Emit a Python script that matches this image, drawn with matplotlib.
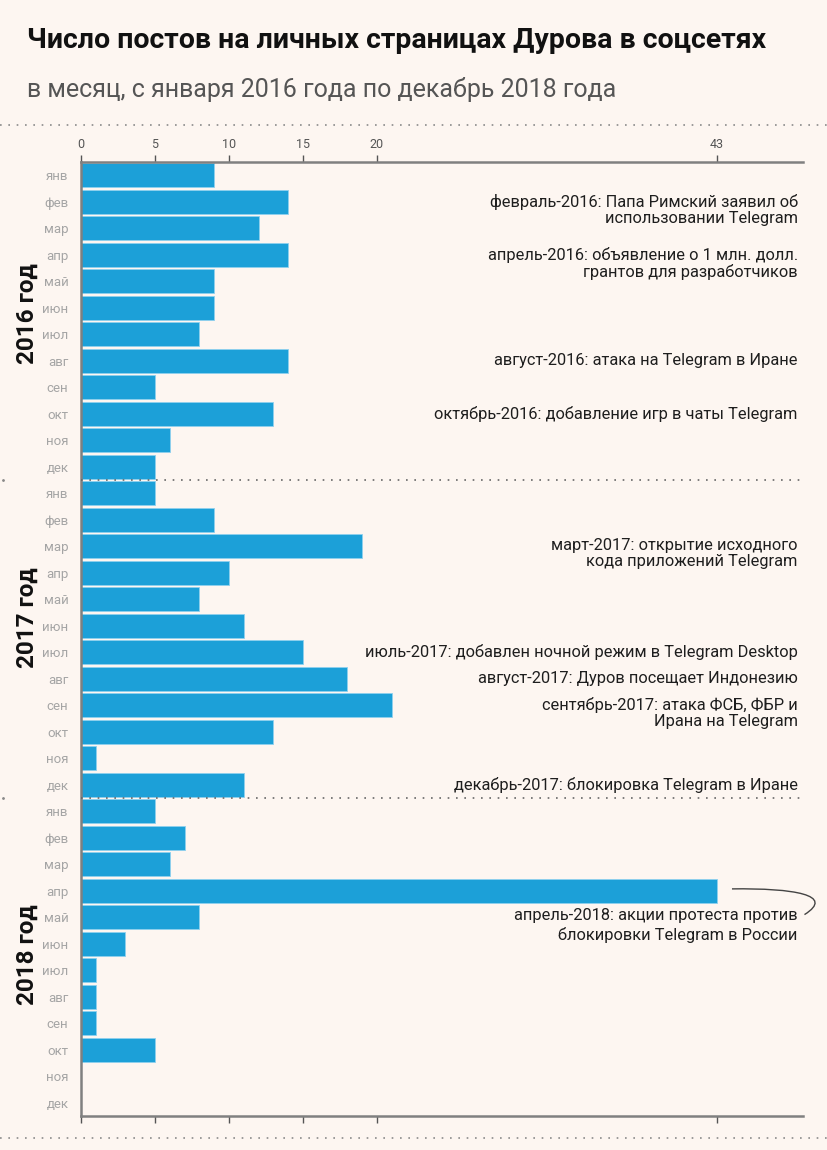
import matplotlib.pyplot as plt
import matplotlib.transforms as mtransforms
from matplotlib.patches import PathPatch
from matplotlib.path import Path
from matplotlib.lines import Line2D

plt.rcParams['font.family'] = ['Roboto', 'DejaVu Sans']

months = ['янв', 'фев', 'мар', 'апр', 'май', 'июн',
          'июл', 'авг', 'сен', 'окт', 'ноя', 'дек']
years = ['2016 год', '2017 год', '2018 год']
posts_2016 = [9, 14, 12, 14, 9, 9, 8, 14, 5, 13, 6, 5]
posts_2017 = [5, 9, 19, 10, 8, 11, 15, 18, 21, 13, 1, 11]
posts_2018 = [5, 7, 6, 43, 8, 3, 1, 1, 1, 5, 0, 0]
x_ticks = [0, 5, 10, 15, 20, 43]

# (row index, text)
events = [
    (1, 'февраль-2016: Папа Римский заявил об\nиспользовании Telegram'),
    (3, 'апрель-2016: объявление о 1 млн. долл.\nгрантов для разработчиков'),
    (7, 'август-2016: атака на Telegram в Иране'),
    (9, 'октябрь-2016: добавление игр в чаты Telegram'),
    (14, 'март-2017: открытие исходного\nкода приложений Telegram'),
    (18, 'июль-2017: добавлен ночной режим в Telegram Desktop'),
    (19, 'август-2017: Дуров посещает Индонезию'),
    (20, 'сентябрь-2017: атака ФСБ, ФБР и\nИрана на Telegram'),
    (23, 'декабрь-2017: блокировка Telegram в Иране'),
]
big_event = (27, 'апрель-2018: акции протеста против\nблокировки Telegram в России')

values = posts_2016 + posts_2017 + posts_2018
labels = months * 3
rows = list(range(len(values)))

bg = '#fdf6f1'
bar_c = '#1ca0d8'

fig = plt.figure(figsize=(8.28, 11.5), dpi=100, facecolor=bg)
ax = fig.add_axes([81 / 828, 1 - 1116 / 1150, (803 - 81) / 828, (1116 - 162) / 1150])
ax.set_facecolor(bg)

ax.barh(rows, values, height=0.92, color=bar_c, edgecolor='#8fd0ee', linewidth=0.6, zorder=2)
ax.set_ylim(len(values) - 0.5, -0.5)
ax.set_xlim(0, 48.8)

ax.set_yticks(rows)
ax.set_yticklabels(labels, color='#a5a5a5', fontsize=9.5)
ax.tick_params(axis='y', length=0, pad=9)

ax.set_xticks(x_ticks)
ax.tick_params(axis='x', top=True, labeltop=True, bottom=True, labelbottom=False,
               direction='out', length=5, width=1, color='#555555',
               labelsize=9, labelcolor='#555555', pad=3)
for s in ['top', 'bottom', 'left']:
    ax.spines[s].set_color('#808080')
    ax.spines[s].set_linewidth(1.8)
ax.spines['right'].set_visible(False)

# events
for r, txt in events:
    ax.text(48.45, r - 0.3, txt, ha='right', va='top', fontsize=11.8,
            color='#1e1e1e', linespacing=1.06, zorder=3)
r, txt = big_event
ax.text(48.45, r + 0.64, txt, ha='right', va='top', fontsize=11.8,
        color='#1e1e1e', linespacing=1.35, zorder=3)
verts = [(44.0, r - 0.07), (48.2, r - 0.1), (51.0, r + 0.16), (48.9, r + 0.9)]
curve = PathPatch(Path(verts, [Path.MOVETO, Path.CURVE4, Path.CURVE4, Path.CURVE4]),
                  fill=False, edgecolor='#444444', lw=1.0, clip_on=False)
ax.add_patch(curve)

# year labels and separators
blend = mtransforms.blended_transform_factory(fig.transFigure, ax.transData)
for name, yc in zip(years, [5.24, 16.7, 29.4]):
    ax.text(27 / 828, yc, name, rotation=90, ha='center', va='center',
            fontsize=17.5, fontweight='bold', color='#111111', transform=blend)
for yb in [11.5, 23.5]:
    ax.plot([0, 1.0], [yb, yb], transform=mtransforms.blended_transform_factory(
        ax.transAxes, ax.transData), ls=(0, (1, 4)), color='#666666', lw=1.2,
        clip_on=False, zorder=4)
    ax.plot([3 / 828], [yb], marker='.', ms=2, color='#888888',
            transform=blend, clip_on=False)

for yy in [125, 1138]:
    fig.add_artist(Line2D([0, 1], [1 - yy / 1150] * 2, transform=fig.transFigure,
                          ls=(0, (1, 4)), color='#8a8a8a', lw=1.2))

fig.text(27 / 828, 1 - 40 / 1150, 'Число постов на личных страницах Дурова в соцсетях',
         fontsize=20.5, fontweight='bold', color='#111111', va='center', ha='left')
fig.text(27 / 828, 1 - 89 / 1150, 'в месяц, с января 2016 года по декабрь 2018 года',
         fontsize=18, color='#555555', va='center', ha='left')

fig.savefig('out.png', dpi=100, facecolor=bg)
